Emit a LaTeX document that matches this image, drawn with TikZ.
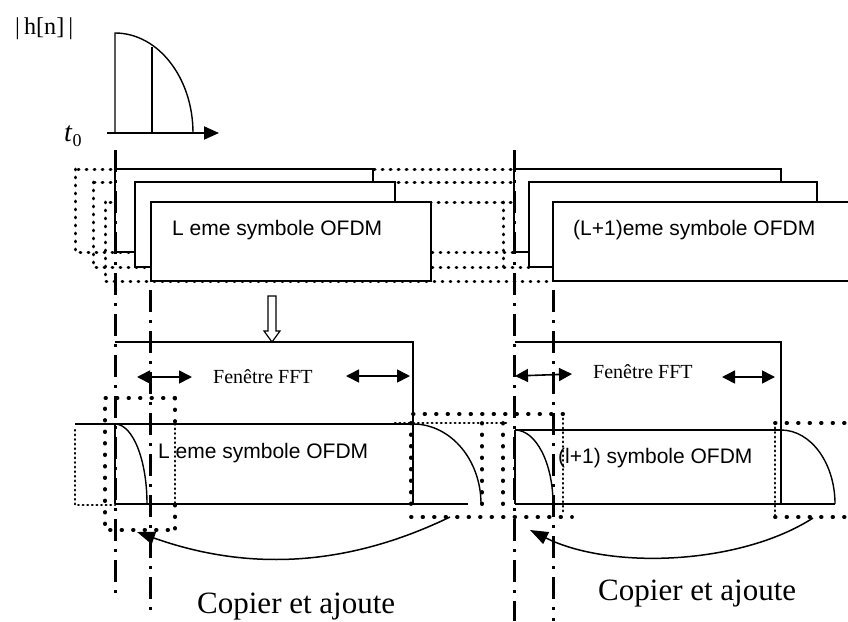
\documentclass[tikz,border=0pt]{standalone}
\usepackage{fontspec}
\setmainfont{Liberation Serif}
\newfontfamily\sansf{Liberation Sans}
\newfontfamily\serf{Liberation Serif}
\usetikzlibrary{arrows.meta}
\begin{document}
\begin{tikzpicture}[x=1pt,y=-1pt,
  boxline/.style={line width=1.4pt},
  thinline/.style={line width=1.4pt},
  dotline/.style={line width=3pt, dash pattern=on 0.8pt off 7.2pt, line cap=round},
  bigdot/.style={line width=3.8pt, dash pattern=on 0.6pt off 10.9pt, line cap=round},
  smalldot/.style={line width=2.5pt, dash pattern=on 0.6pt off 4pt, line cap=round},
  dashdotline/.style={line width=3pt, dash pattern=on 22pt off 8pt on 3pt off 8pt},
  dblarrow/.style={line width=1.6pt, {Triangle[length=13pt,width=13pt]}-{Triangle[length=13pt,width=13pt]}},
  copyarrow/.style={line width=1.5pt, -{Triangle[length=18pt,width=13pt]}},
  symtext/.style={font=\sansf\fontsize{21}{25}\selectfont, inner sep=0pt, anchor=base west},
  ffttext/.style={font=\fontsize{20}{24}\selectfont, inner sep=0pt, anchor=base west},
  copytext/.style={font=\fontsize{31}{36}\selectfont, inner sep=0pt, anchor=base west},
  hntext/.style={inner sep=0pt, anchor=base west},
  ttext/.style={font=\fontsize{28}{32}\selectfont, inner sep=0pt, anchor=base west}]
\useasboundingbox (0,0) rectangle (848,621);
\clip (0,0) rectangle (848,621);
\fill[white] (0,0) rectangle (848,621);

% ---------- impulse response ----------
\node[hntext] (hn) at (15,34) {\resizebox{58pt}{!}{\serf |\,h[n]\,|}};
\node[ttext] (tzero) at (64,141) {\textit{t}\raisebox{-0.2em}{\fontsize{18}{20}\selectfont 0}};
\coordinate (ax0) at (107,133);
\coordinate (ax1) at (219,133);
\coordinate (imptop) at (115,33);
\coordinate (impbase) at (115,133);
\coordinate (impend) at (193,133);
\coordinate (midtop) at (152,47);
\coordinate (midbase) at (152,133);
\draw[thinline] (impbase) -- (imptop) .. controls (158.1,33) and (193,77.8) .. (impend);
\draw[thinline] (midbase) -- (midtop);
\draw[line width=2pt, -{Triangle[length=15pt,width=13pt]}] (ax0) -- (ax1);

% ---------- top stacked symbols: dotted copies ----------
\draw[dotline] (75,169) rectangle (514,252);
\draw[dotline] (93,182) rectangle (529,267);
\draw[dotline] (105,202) rectangle (553,281);
\draw[dotline] (503,202) -- (503,267);

% left group
\filldraw[boxline, fill=white] (115,169) rectangle (373,252);
\filldraw[boxline, fill=white] (135,182) rectangle (395,267);
\filldraw[boxline, fill=white] (151,202) rectangle (431,281);
\node[symtext] (symL) at (172,235) {L eme symbole OFDM};

% right group
\filldraw[boxline, fill=white] (514,169) rectangle (781,252);
\filldraw[boxline, fill=white] (529,182) rectangle (817,267);
\filldraw[boxline, fill=white] (553,202) rectangle (880,281);
\node[symtext] (symLp) at (573,235) {(L+1)eme symbole OFDM};

% ---------- hollow arrow ----------
\draw[line width=1.2pt, fill=white] (268,296) -- (276,296) -- (276,331) -- (280,331) -- (272,342) -- (264,331) -- (268,331) -- cycle;

% ---------- FFT windows ----------
\coordinate (wl0) at (115,342);
\coordinate (wl1) at (413,342);
\coordinate (wl2) at (413,504);
\draw[thinline] (wl0) -- (wl1) -- (wl2);
\node[ffttext] (fftL) at (213,383) {Fenêtre FFT};
\coordinate (dal0) at (137,377); \coordinate (dal1) at (192,377);
\coordinate (dal2) at (346,376); \coordinate (dal3) at (410,376);
\draw[dblarrow] (dal0) -- (dal1);
\draw[dblarrow] (dal2) -- (dal3);

\coordinate (wr0) at (515,342);
\coordinate (wr1) at (781,342);
\coordinate (wr2) at (781,504);
\draw[thinline] (wr0) -- (wr1) -- (wr2);
\node[ffttext] (fftR) at (593,378) {Fenêtre FFT};
\coordinate (dar0) at (515,376); \coordinate (dar1) at (572,374);
\coordinate (dar2) at (722,377); \coordinate (dar3) at (775,377);
\draw[dblarrow] (dar0) -- (dar1);
\draw[dblarrow] (dar2) -- (dar3);

% ---------- bottom: dotted regions ----------
\draw[smalldot] (75,430) -- (75,505) -- (115,505);
\draw[bigdot] (175,398) -- (105,398) -- (105,530) -- (175,530);
\draw[bigdot] (175,398) -- (175,424);
\draw[smalldot] (175,424) -- (175,505);
\draw[bigdot] (175,505) -- (175,530);

\draw[bigdot] (411,504) -- (411,414) -- (570,414);
\draw[smalldot] (395,423) -- (507,423);
\draw[bigdot] (482,423) -- (482,505);
\draw[bigdot] (503,423) -- (503,505);
\draw[bigdot] (411,517) -- (572,517);
\draw[smalldot] (563,414) -- (563,514);

\draw[smalldot] (775,423) -- (775,515);
\draw[bigdot] (775,423) -- (850,423);
\draw[bigdot] (775,517) -- (850,517);

% ---------- bottom: left symbol ----------
\draw[thinline] (75,424) -- (413,424);
\draw[thinline] (115,504) -- (468,504);
\draw[thinline] (115,424) -- (115,504);
\draw[thinline] (115,424) .. controls (132.7,424) and (147,459.8) .. (147,504);
\draw[thinline] (413,424) .. controls (450.6,424) and (481,459.8) .. (481,504);
\node[symtext] (symBL) at (158,458) {L eme symbole OFDM};

% ---------- bottom: right symbol ----------
\draw[thinline] (515,430) -- (781,430);
\draw[thinline] (515,504) -- (835,504);
\draw[thinline] (515,430) -- (515,504);
\draw[thinline] (515,430) .. controls (536,430) and (553,463.1) .. (553,504);
\draw[thinline] (781,430) .. controls (810.8,430) and (835,463.1) .. (835,504);
\node[symtext] (symBR) at (558,463) {(l+1) symbole OFDM};

% ---------- copy arrows ----------
\coordinate (cl0) at (450,517); \coordinate (cl1) at (137,532);
\draw[copyarrow] (cl0) .. controls (330,575) and (230,565) .. (cl1);
\coordinate (cr0) at (813,518); \coordinate (cr1) at (530,530);
\draw[copyarrow] (cr0) .. controls (740,565) and (610,570) .. (cr1);
\node[copytext] (copyL) at (197,613) {Copier et ajoute};
\node[copytext] (copyR) at (598,600) {Copier et ajoute};

% ---------- dash-dot guide lines ----------
\coordinate (g1a) at (115,150); \coordinate (g1b) at (115,600);
\coordinate (g2a) at (150,290); \coordinate (g2b) at (150,610);
\coordinate (g3a) at (514,150); \coordinate (g3b) at (514,621);
\coordinate (g4a) at (553,290); \coordinate (g4b) at (553,621);
\draw[dashdotline] (g1a) -- (g1b);
\draw[dashdotline] (g2a) -- (g2b);
\draw[dashdotline] (g3a) -- (g3b);
\draw[dashdotline] (g4a) -- (g4b);
\end{tikzpicture}
\end{document}
